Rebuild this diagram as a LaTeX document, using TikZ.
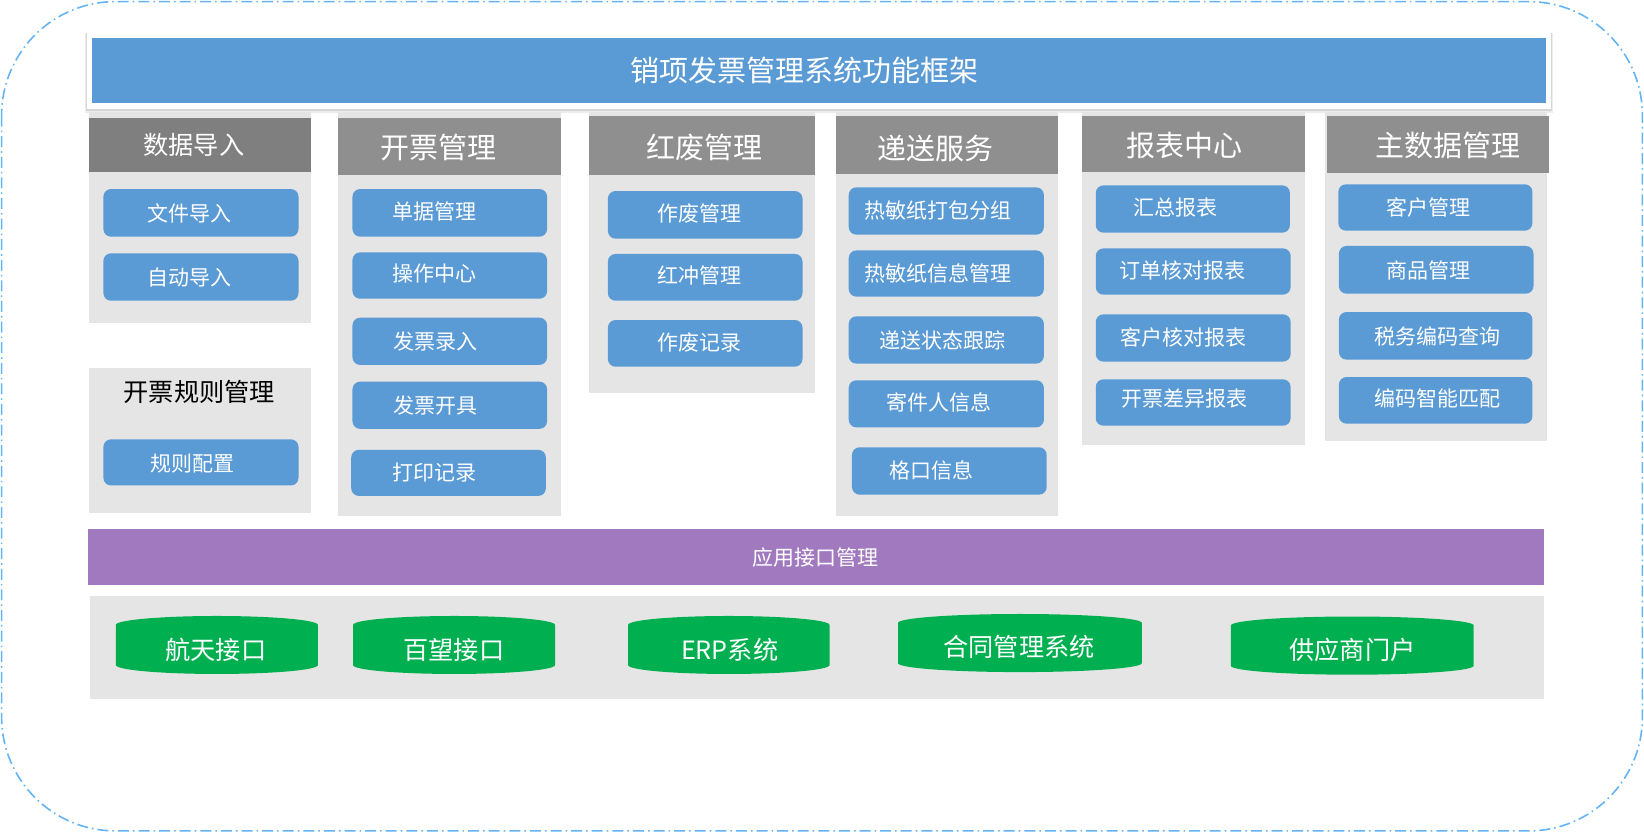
\documentclass[tikz,border=0pt]{standalone}
\usepackage{fontspec}
\setmainfont{Noto Sans CJK SC}
\definecolor{bluefill}{RGB}{91,155,213}
\definecolor{hdrA}{RGB}{127,127,127}
\definecolor{hdrB}{RGB}{143,143,143}
\definecolor{bodyfill}{RGB}{229,229,229}
\definecolor{purplefill}{RGB}{161,121,191}
\definecolor{greenfill}{RGB}{0,176,80}
\definecolor{borderblue}{RGB}{100,180,245}
\newcommand\itm[8]{%
  \fill[itemfill] (#2,#3) rectangle (#4,#5);
  \node[itemtext] (#1) at (#6,#7) {#8};}
\newcommand\cyl[8]{%
  \fill[greenfill] ({#2},{#4+8.5}) .. controls ({#2},{#4+8.5*0.4477}) and ({(#2+#3)/2-0.5523*(#3-#2)/2},{#4}) .. ({(#2+#3)/2},{#4})
    .. controls ({(#2+#3)/2+0.5523*(#3-#2)/2},{#4}) and ({#3},{#4+8.5*0.4477}) .. ({#3},{#4+8.5})
    -- ({#3},{#5-8.5}) .. controls ({#3},{#5-8.5*0.4477}) and ({(#2+#3)/2+0.5523*(#3-#2)/2},{#5}) .. ({(#2+#3)/2},{#5})
    .. controls ({(#2+#3)/2-0.5523*(#3-#2)/2},{#5}) and ({#2},{#5-8.5*0.4477}) .. ({#2},{#5-8.5}) -- cycle;
  \node[cyltext] (#1) at (#6,#7) {#8};}
\begin{document}
\begin{tikzpicture}[x=0.52425pt,y=-0.52425pt,
  itemfill/.style={fill=bluefill,rounded corners=3.8pt},
  itemtext/.style={text=white,inner sep=0pt,font=\fontsize{10.5pt}{12pt}\selectfont},
  hdrtext/.style={text=white,inner sep=0pt,font=\fontsize{14.5pt}{16pt}\selectfont},
  cyltext/.style={text=white,inner sep=0pt,font=\fontsize{12.6pt}{14pt}\selectfont},
  outerline/.style={draw=borderblue,line width=0.8pt,dash pattern=on 5.5pt off 2pt on 0.8pt off 2pt,rounded corners=57pt}]
\useasboundingbox (0,0) rectangle (1568,794);
% outer border
\draw[outerline] (1.5,1.5) rectangle (1566.5,792.5);
% title bar
\fill[black!7] (81.5,31) rectangle (1481.5,108);
\fill[black!16] (82,31) rectangle (1480,105.5);
\fill[white] (82.6,30.8) rectangle (1479,103.7);
\fill[bluefill] (87.7,36) rectangle (1474.5,98.5);
\node[hdrtext] (title) at (767,67) {销项发票管理系统功能框架};
% column 1
\fill[bodyfill] (85,107) rectangle (297,308);
\fill[hdrA] (85,112.5) rectangle (297,164);
\node[hdrtext,font=\fontsize{12.6pt}{14pt}\selectfont] (h1) at (185,138) {数据导入};
\itm{a1}{98.6}{180.3}{284.7}{225.7}{180.5}{203.5}{文件导入}
\itm{a2}{98.6}{241.6}{284.7}{286.8}{180.5}{264.8}{自动导入}
% column 1 lower
\fill[bodyfill] (85,351) rectangle (297,489);
\node[inner sep=0pt,text=black,font=\fontsize{12.6pt}{14pt}\selectfont] (h1b) at (190,374) {开票规则管理};
\itm{a3}{98.6}{419}{284.7}{463}{183.5}{442}{规则配置}
% column 2
\fill[bodyfill] (322.5,107) rectangle (534.6,492);
\fill[hdrB] (322.5,112.2) rectangle (534.6,167);
\node[hdrtext] (h2) at (418.5,141) {开票管理};
\itm{b1}{336.2}{180.3}{521.8}{225.7}{414.5}{201.9}{单据管理}
\itm{b2}{336.2}{240.7}{521.8}{284.9}{414.5}{261.3}{操作中心}
\itm{b3}{336.2}{303}{521.8}{348}{415.5}{326}{发票录入}
\itm{b4}{336.2}{364}{521.8}{409}{415.5}{387}{发票开具}
\itm{b5}{335}{429}{520.6}{473}{414.5}{451}{打印记录}
% column 3
\fill[bodyfill] (562,107) rectangle (777,375);
\fill[hdrB] (562,110.6) rectangle (777,166.6);
\node[hdrtext] (h3) at (672,141) {红废管理};
\itm{c1}{579.8}{182.2}{765.4}{227.6}{667.6}{203.5}{作废管理}
\itm{c2}{579.8}{242.2}{765.4}{286.8}{667.6}{262.9}{红冲管理}
\itm{c3}{579.8}{305.2}{765.4}{349.7}{667.6}{326.5}{作废记录}
% column 4
\fill[bodyfill] (797.2,107) rectangle (1009,492);
\fill[hdrB] (797.2,110.6) rectangle (1009,165.7);
\node[hdrtext] (h4) at (892.5,141.5) {递送服务};
\itm{d1}{809.5}{178.7}{995.6}{223.8}{895}{201.2}{热敏纸打包分组}
\itm{d2}{809.5}{238.8}{995.6}{282.9}{895}{260.7}{热敏纸信息管理}
\itm{d3}{809.5}{301.7}{995.6}{346.8}{898.7}{324.9}{递送状态跟踪}
\itm{d4}{809.5}{362.7}{995.6}{407.6}{895.8}{384}{寄件人信息}
\itm{d5}{812.6}{426.6}{998.3}{471.8}{888.5}{448.3}{格口信息}
% column 5
\fill[bodyfill] (1032,107) rectangle (1244.6,424);
\fill[hdrB] (1032,110.6) rectangle (1244.6,163.7);
\node[hdrtext] (h5) at (1130,138.9) {报表中心};
\itm{e1}{1045.1}{176.8}{1230.3}{221.9}{1121.6}{197.7}{汇总报表}
\itm{e2}{1045.1}{236.9}{1231}{281}{1128.2}{258.1}{订单核对报表}
\itm{e3}{1045.1}{299.8}{1231}{344.9}{1129.2}{321.7}{客户核对报表}
\itm{e4}{1045.1}{361.8}{1231}{406}{1129.9}{380.2}{开票差异报表}
% column 6
\fill[bodyfill] (1263.7,107) rectangle (1475.5,420.3);
\fill[hdrB] (1265.6,110.6) rectangle (1477.4,164.7);
\node[hdrtext] (h6) at (1381.2,139.2) {主数据管理};
\itm{f1}{1276.4}{175.8}{1461.6}{220}{1362}{197.6}{客户管理}
\itm{f2}{1277}{234.6}{1462.6}{280.1}{1362.5}{258.1}{商品管理}
\itm{f3}{1277}{297.6}{1461.6}{343}{1370.9}{321.1}{税务编码查询}
\itm{f4}{1277}{359.6}{1461.6}{404.1}{1370.9}{380.2}{编码智能匹配}
% interface bar
\fill[purplefill] (83.7,504.5) rectangle (1472.4,558);
\node[itemtext] (api) at (777.6,531.5) {应用接口管理};
% bottom systems
\fill[bodyfill] (85.6,568.4) rectangle (1472.4,666.7);
\cyl{g1}{110.5}{303.2}{587.5}{642.8}{206}{620}{航天接口}
\cyl{g2}{336.7}{529.4}{587.5}{642.8}{433}{620}{百望接口}
\cyl{g3}{599}{791.2}{587.5}{642.8}{696}{620}{ERP系统}
\cyl{g4}{856.5}{1089}{585.6}{641}{972}{616.8}{合同管理系统}
\cyl{g5}{1174}{1405.6}{588}{643.5}{1290}{620}{供应商门户}
\end{tikzpicture}
\end{document}
